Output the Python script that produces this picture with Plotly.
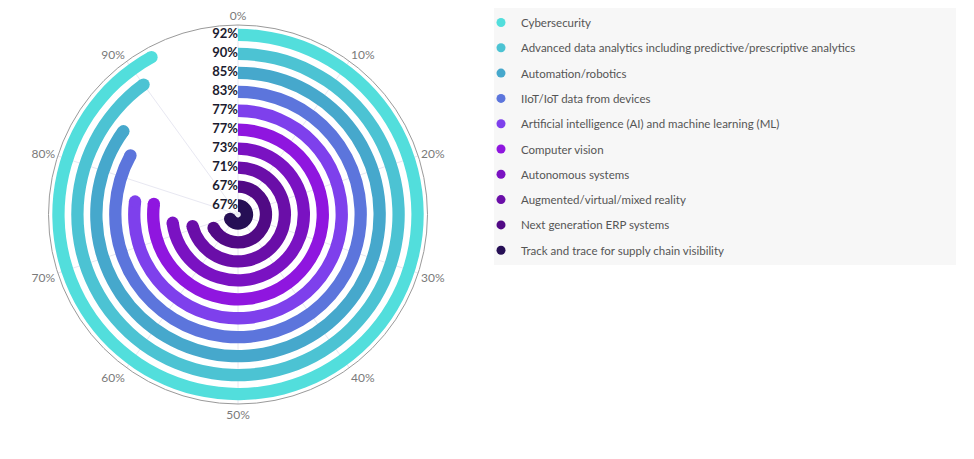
import plotly.graph_objects as go

# Data (outer ring first)
categories = [
    "Cybersecurity",
    "Advanced data analytics including predictive/prescriptive analytics",
    "Automation/robotics",
    "IIoT/IoT data from devices",
    "Artificial intelligence (AI) and machine learning (ML)",
    "Computer vision",
    "Autonomous systems",
    "Augmented/virtual/mixed reality",
    "Next generation ERP systems",
    "Track and trace for supply chain visibility",
]
values = [92, 90, 85, 83, 77, 77, 73, 71, 67, 67]
colors = ["#52DEDC", "#4CC3D3", "#46A8CC", "#5C75DC", "#7E40EC",
          "#8F16DF", "#7A12C2", "#6A0EA8", "#510A85", "#260F55"]
tick_values = [0, 10, 20, 30, 40, 50, 60, 70, 80, 90]
tick_labels = [f"{v}%" for v in tick_values]

DEG_PER_PCT = 3.6
RING_BASE_OFFSET = 0.15
RING_THICK = 0.65
n = len(categories)

fig = go.Figure()

for i, (cat, val, col) in enumerate(zip(categories, values, colors)):
    k = n - 1 - i  # ring index, 0 = innermost
    fig.add_trace(go.Barpolar(
        r=[RING_THICK], base=[k + RING_BASE_OFFSET],
        theta=[val * DEG_PER_PCT / 2], width=[val * DEG_PER_PCT],
        marker=dict(color=col, line=dict(width=0)),
        showlegend=False, hoverinfo="skip",
    ))
    # rounded end cap
    fig.add_trace(go.Scatterpolar(
        r=[k + RING_BASE_OFFSET + RING_THICK / 2], theta=[val * DEG_PER_PCT],
        mode="markers", marker=dict(color=col, size=12.3, line=dict(width=0)),
        showlegend=False, hoverinfo="skip",
    ))
    # value label
    fig.add_trace(go.Scatterpolar(
        r=[k + RING_BASE_OFFSET + RING_THICK / 2], theta=[0],
        mode="text", text=[f"<b>{val}%</b>"], textposition="middle left",
        textfont=dict(color="#1c1c30", size=13, family="Lato, Open Sans, sans-serif"),
        showlegend=False, hoverinfo="skip",
    ))
    # legend entry
    fig.add_trace(go.Scatterpolar(
        r=[None], theta=[None], mode="markers", name=cat,
        legendgroup=f"g{i}",
        marker=dict(color=col, size=9, line=dict(width=0)),
    ))

# page has an 8px body margin; figure coordinates are page coordinates - 8
OFF = 8
W, H = 974 - 2 * OFF, 459 - 2 * OFF
cx, cy, R = 238.0 - OFF, 214.5 - OFF, 189.5

fig.update_layout(
    width=W, height=H,
    margin=dict(l=0, r=0, t=0, b=0),
    paper_bgcolor="white",
    font=dict(family="Lato, Open Sans, sans-serif", size=12, color="#555555"),
    polar=dict(
        domain=dict(x=[(cx - R) / W, (cx + R) / W],
                    y=[(H - cy - R) / H, (H - cy + R) / H]),
        bgcolor="white",
        barmode="overlay",
        radialaxis=dict(range=[0, n], visible=False, showgrid=False),
        angularaxis=dict(
            rotation=90, direction="clockwise",
            tickmode="array",
            tickvals=[v * DEG_PER_PCT for v in tick_values],
            ticktext=tick_labels,
            tickfont=dict(color="#7a7a7a", size=12),
            ticks="",
            showline=True, linecolor="#9a9a9a", linewidth=1,
            showgrid=True, gridcolor="#e8e8f2", gridwidth=1,
        ),
    ),
    legend=dict(
        x=(521 - OFF - 40) / W, y=1, xanchor="left", yanchor="top",
        bgcolor="rgba(0,0,0,0)",
        font=dict(size=11.5, color="#555555", family="Lato, Open Sans, sans-serif"),
        tracegroupgap=6.3,
    ),
    shapes=[dict(
        type="rect", xref="paper", yref="paper", layer="below",
        x0=(494 - OFF) / W, x1=(956 - OFF) / W,
        y0=1 - (265 - OFF) / H, y1=1.02,
        fillcolor="#f7f7f7", line=dict(width=0),
    )],
)

fig.write_html("out.html")
